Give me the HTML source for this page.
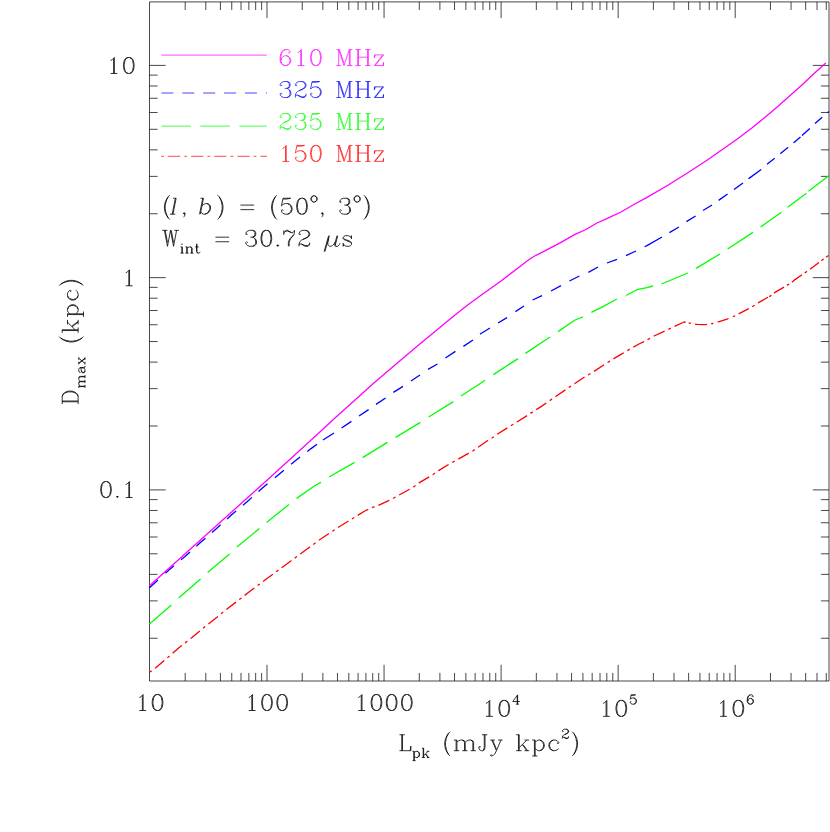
<!DOCTYPE html>
<html><head><meta charset="utf-8"><title>Dmax vs Lpk</title>
<style>html,body{margin:0;padding:0;background:#fff;font-family:"Liberation Sans",sans-serif}svg{display:block}</style></head>
<body>
<svg width="830" height="832" viewBox="0 0 830 832">
<title>D_max (kpc) versus L_pk (mJy kpc^2)</title>
<desc>Log-log plot of D_max (kpc) against L_pk (mJy kpc^2) for 610 MHz, 325 MHz, 235 MHz and 150 MHz; (l, b) = (50 deg, 3 deg), W_int = 30.72 us. X axis 10 to 10^6, Y axis 0.1 to 10.</desc>
<rect width="830" height="832" fill="#fff"/>
<path d="M149.5 1.9H829V681H149.5ZM185.19 681v-8.1M185.19 1.9v8.1M205.8 681v-8.1M205.8 1.9v8.1M220.42 681v-8.1M220.42 1.9v8.1M231.76 681v-8.1M231.76 1.9v8.1M241.03 681v-8.1M241.03 1.9v8.1M248.87 681v-8.1M248.87 1.9v8.1M255.66 681v-8.1M255.66 1.9v8.1M261.64 681v-8.1M261.64 1.9v8.1M267 681v-16.2M267 1.9v16.2M302.24 681v-8.1M302.24 1.9v8.1M322.85 681v-8.1M322.85 1.9v8.1M337.47 681v-8.1M337.47 1.9v8.1M348.81 681v-8.1M348.81 1.9v8.1M358.08 681v-8.1M358.08 1.9v8.1M365.92 681v-8.1M365.92 1.9v8.1M372.71 681v-8.1M372.71 1.9v8.1M378.69 681v-8.1M378.69 1.9v8.1M384.05 681v-16.2M384.05 1.9v16.2M419.29 681v-8.1M419.29 1.9v8.1M439.9 681v-8.1M439.9 1.9v8.1M454.52 681v-8.1M454.52 1.9v8.1M465.86 681v-8.1M465.86 1.9v8.1M475.13 681v-8.1M475.13 1.9v8.1M482.97 681v-8.1M482.97 1.9v8.1M489.76 681v-8.1M489.76 1.9v8.1M495.74 681v-8.1M495.74 1.9v8.1M501.1 681v-16.2M501.1 1.9v16.2M536.34 681v-8.1M536.34 1.9v8.1M556.95 681v-8.1M556.95 1.9v8.1M571.57 681v-8.1M571.57 1.9v8.1M582.91 681v-8.1M582.91 1.9v8.1M592.18 681v-8.1M592.18 1.9v8.1M600.02 681v-8.1M600.02 1.9v8.1M606.81 681v-8.1M606.81 1.9v8.1M612.79 681v-8.1M612.79 1.9v8.1M618.15 681v-16.2M618.15 1.9v16.2M653.39 681v-8.1M653.39 1.9v8.1M674 681v-8.1M674 1.9v8.1M688.62 681v-8.1M688.62 1.9v8.1M699.96 681v-8.1M699.96 1.9v8.1M709.23 681v-8.1M709.23 1.9v8.1M717.07 681v-8.1M717.07 1.9v8.1M723.86 681v-8.1M723.86 1.9v8.1M729.84 681v-8.1M729.84 1.9v8.1M735.2 681v-16.2M735.2 1.9v16.2M770.44 681v-8.1M770.44 1.9v8.1M791.05 681v-8.1M791.05 1.9v8.1M805.67 681v-8.1M805.67 1.9v8.1M817.01 681v-8.1M817.01 1.9v8.1M826.28 681v-8.1M826.28 1.9v8.1M149.5 638.26h8.1M829 638.26h-8.1M149.5 600.88h8.1M829 600.88h-8.1M149.5 574.36h8.1M829 574.36h-8.1M149.5 553.79h8.1M829 553.79h-8.1M149.5 536.99h8.1M829 536.99h-8.1M149.5 522.78h8.1M829 522.78h-8.1M149.5 510.47h8.1M829 510.47h-8.1M149.5 499.61h8.1M829 499.61h-8.1M149.5 489.9h16.2M829 489.9h-16.2M149.5 426.01h8.1M829 426.01h-8.1M149.5 388.63h8.1M829 388.63h-8.1M149.5 362.11h8.1M829 362.11h-8.1M149.5 341.54h8.1M829 341.54h-8.1M149.5 324.74h8.1M829 324.74h-8.1M149.5 310.53h8.1M829 310.53h-8.1M149.5 298.22h8.1M829 298.22h-8.1M149.5 287.36h8.1M829 287.36h-8.1M149.5 277.65h16.2M829 277.65h-16.2M149.5 213.76h8.1M829 213.76h-8.1M149.5 176.38h8.1M829 176.38h-8.1M149.5 149.86h8.1M829 149.86h-8.1M149.5 129.29h8.1M829 129.29h-8.1M149.5 112.49h8.1M829 112.49h-8.1M149.5 98.28h8.1M829 98.28h-8.1M149.5 85.97h8.1M829 85.97h-8.1M149.5 75.11h8.1M829 75.11h-8.1M149.5 65.4h16.2M829 65.4h-16.2" fill="none" stroke="#000" stroke-width="0.72"/>
<path d="M110.56 60.53L112.08 59.77L114.36 57.49L114.36 73.45M113.6 58.25L113.6 73.45M110.56 73.45L117.4 73.45M128.04 57.49L125.76 58.25L124.24 60.53L123.48 64.33L123.48 66.61L124.24 70.41L125.76 72.69L128.04 73.45L129.56 73.45L131.84 72.69L133.36 70.41L134.12 66.61L134.12 64.33L133.36 60.53L131.84 58.25L129.56 57.49L128.04 57.49M128.04 57.49L126.52 58.25L125.76 59.01L125 60.53L124.24 64.33L124.24 66.61L125 70.41L125.76 71.93L126.52 72.69L128.04 73.45M129.56 73.45L131.08 72.69L131.84 71.93L132.6 70.41L133.36 66.61L133.36 64.33L132.6 60.53L131.84 59.01L131.08 58.25L129.56 57.49M125.76 272.83L127.28 272.07L129.56 269.79L129.56 285.75M128.8 270.55L128.8 285.75M125.76 285.75L132.6 285.75M105.24 481.54L102.96 482.3L101.44 484.58L100.68 488.38L100.68 490.66L101.44 494.46L102.96 496.74L105.24 497.5L106.76 497.5L109.04 496.74L110.56 494.46L111.32 490.66L111.32 488.38L110.56 484.58L109.04 482.3L106.76 481.54L105.24 481.54M105.24 481.54L103.72 482.3L102.96 483.06L102.2 484.58L101.44 488.38L101.44 490.66L102.2 494.46L102.96 495.98L103.72 496.74L105.24 497.5M106.76 497.5L108.28 496.74L109.04 495.98L109.8 494.46L110.56 490.66L110.56 488.38L109.8 484.58L109.04 483.06L108.28 482.3L106.76 481.54M117.4 495.98L116.64 496.74L117.4 497.5L118.16 496.74L117.4 495.98M117.4 495.98L117.4 497.5M116.64 496.74L118.16 496.74M125.76 484.58L127.28 483.82L129.56 481.54L129.56 497.5M128.8 482.3L128.8 497.5M125.76 497.5L132.6 497.5M139.31 697.58L140.83 696.82L143.11 694.54L143.11 710.5M142.35 695.3L142.35 710.5M139.31 710.5L146.15 710.5M156.79 694.54L154.51 695.3L152.99 697.58L152.23 701.38L152.23 703.66L152.99 707.46L154.51 709.74L156.79 710.5L158.31 710.5L160.59 709.74L162.11 707.46L162.87 703.66L162.87 701.38L162.11 697.58L160.59 695.3L158.31 694.54L156.79 694.54M156.79 694.54L155.27 695.3L154.51 696.06L153.75 697.58L152.99 701.38L152.99 703.66L153.75 707.46L154.51 708.98L155.27 709.74L156.79 710.5M158.31 710.5L159.83 709.74L160.59 708.98L161.35 707.46L162.11 703.66L162.11 701.38L161.35 697.58L160.59 696.06L159.83 695.3L158.31 694.54M248.76 697.58L250.28 696.82L252.56 694.54L252.56 710.5M251.8 695.3L251.8 710.5M248.76 710.5L255.6 710.5M266.24 694.54L263.96 695.3L262.44 697.58L261.68 701.38L261.68 703.66L262.44 707.46L263.96 709.74L266.24 710.5L267.76 710.5L270.04 709.74L271.56 707.46L272.32 703.66L272.32 701.38L271.56 697.58L270.04 695.3L267.76 694.54L266.24 694.54M266.24 694.54L264.72 695.3L263.96 696.06L263.2 697.58L262.44 701.38L262.44 703.66L263.2 707.46L263.96 708.98L264.72 709.74L266.24 710.5M267.76 710.5L269.28 709.74L270.04 708.98L270.8 707.46L271.56 703.66L271.56 701.38L270.8 697.58L270.04 696.06L269.28 695.3L267.76 694.54M281.44 694.54L279.16 695.3L277.64 697.58L276.88 701.38L276.88 703.66L277.64 707.46L279.16 709.74L281.44 710.5L282.96 710.5L285.24 709.74L286.76 707.46L287.52 703.66L287.52 701.38L286.76 697.58L285.24 695.3L282.96 694.54L281.44 694.54M281.44 694.54L279.92 695.3L279.16 696.06L278.4 697.58L277.64 701.38L277.64 703.66L278.4 707.46L279.16 708.98L279.92 709.74L281.44 710.5M282.96 710.5L284.48 709.74L285.24 708.98L286 707.46L286.76 703.66L286.76 701.38L286 697.58L285.24 696.06L284.48 695.3L282.96 694.54M358.21 697.58L359.73 696.82L362.01 694.54L362.01 710.5M361.25 695.3L361.25 710.5M358.21 710.5L365.05 710.5M375.69 694.54L373.41 695.3L371.89 697.58L371.13 701.38L371.13 703.66L371.89 707.46L373.41 709.74L375.69 710.5L377.21 710.5L379.49 709.74L381.01 707.46L381.77 703.66L381.77 701.38L381.01 697.58L379.49 695.3L377.21 694.54L375.69 694.54M375.69 694.54L374.17 695.3L373.41 696.06L372.65 697.58L371.89 701.38L371.89 703.66L372.65 707.46L373.41 708.98L374.17 709.74L375.69 710.5M377.21 710.5L378.73 709.74L379.49 708.98L380.25 707.46L381.01 703.66L381.01 701.38L380.25 697.58L379.49 696.06L378.73 695.3L377.21 694.54M390.89 694.54L388.61 695.3L387.09 697.58L386.33 701.38L386.33 703.66L387.09 707.46L388.61 709.74L390.89 710.5L392.41 710.5L394.69 709.74L396.21 707.46L396.97 703.66L396.97 701.38L396.21 697.58L394.69 695.3L392.41 694.54L390.89 694.54M390.89 694.54L389.37 695.3L388.61 696.06L387.85 697.58L387.09 701.38L387.09 703.66L387.85 707.46L388.61 708.98L389.37 709.74L390.89 710.5M392.41 710.5L393.93 709.74L394.69 708.98L395.45 707.46L396.21 703.66L396.21 701.38L395.45 697.58L394.69 696.06L393.93 695.3L392.41 694.54M406.09 694.54L403.81 695.3L402.29 697.58L401.53 701.38L401.53 703.66L402.29 707.46L403.81 709.74L406.09 710.5L407.61 710.5L409.89 709.74L411.41 707.46L412.17 703.66L412.17 701.38L411.41 697.58L409.89 695.3L407.61 694.54L406.09 694.54M406.09 694.54L404.57 695.3L403.81 696.06L403.05 697.58L402.29 701.38L402.29 703.66L403.05 707.46L403.81 708.98L404.57 709.74L406.09 710.5M407.61 710.5L409.13 709.74L409.89 708.98L410.65 707.46L411.41 703.66L411.41 701.38L410.65 697.58L409.89 696.06L409.13 695.3L407.61 694.54M486.01 703.43L487.53 702.67L489.81 700.39L489.81 716.35M489.05 701.15L489.05 716.35M486.01 716.35L492.85 716.35M503.49 700.39L501.21 701.15L499.69 703.43L498.93 707.23L498.93 709.51L499.69 713.31L501.21 715.59L503.49 716.35L505.01 716.35L507.29 715.59L508.81 713.31L509.57 709.51L509.57 707.23L508.81 703.43L507.29 701.15L505.01 700.39L503.49 700.39M503.49 700.39L501.97 701.15L501.21 701.91L500.45 703.43L499.69 707.23L499.69 709.51L500.45 713.31L501.21 714.83L501.97 715.59L503.49 716.35M505.01 716.35L506.53 715.59L507.29 714.83L508.05 713.31L508.81 709.51L508.81 707.23L508.05 703.43L507.29 701.91L506.53 701.15L505.01 700.39M517.19 695.74L517.19 704.19M517.63 694.85L517.63 704.19M517.63 694.85L512.74 701.52L519.86 701.52M515.86 704.19L518.97 704.19M603.06 703.43L604.58 702.67L606.86 700.39L606.86 716.35M606.1 701.15L606.1 716.35M603.06 716.35L609.9 716.35M620.54 700.39L618.26 701.15L616.74 703.43L615.98 707.23L615.98 709.51L616.74 713.31L618.26 715.59L620.54 716.35L622.06 716.35L624.34 715.59L625.86 713.31L626.62 709.51L626.62 707.23L625.86 703.43L624.34 701.15L622.06 700.39L620.54 700.39M620.54 700.39L619.02 701.15L618.26 701.91L617.5 703.43L616.74 707.23L616.74 709.51L617.5 713.31L618.26 714.83L619.02 715.59L620.54 716.35M622.06 716.35L623.58 715.59L624.34 714.83L625.1 713.31L625.86 709.51L625.86 707.23L625.1 703.43L624.34 701.91L623.58 701.15L622.06 700.39M631.13 694.85L630.24 699.3M630.24 699.3L631.13 698.41L632.46 697.97L633.79 697.97L635.13 698.41L636.02 699.3L636.46 700.63L636.46 701.52L636.02 702.86L635.13 703.75L633.79 704.19L632.46 704.19L631.13 703.75L630.68 703.3L630.24 702.41L630.24 701.97L630.68 701.52L631.13 701.97L630.68 702.41M633.79 697.97L634.68 698.41L635.57 699.3L636.02 700.63L636.02 701.52L635.57 702.86L634.68 703.75L633.79 704.19M631.13 694.85L635.57 694.85M631.13 695.3L633.35 695.3L635.57 694.85M720.11 703.43L721.63 702.67L723.91 700.39L723.91 716.35M723.15 701.15L723.15 716.35M720.11 716.35L726.95 716.35M737.59 700.39L735.31 701.15L733.79 703.43L733.03 707.23L733.03 709.51L733.79 713.31L735.31 715.59L737.59 716.35L739.11 716.35L741.39 715.59L742.91 713.31L743.67 709.51L743.67 707.23L742.91 703.43L741.39 701.15L739.11 700.39L737.59 700.39M737.59 700.39L736.07 701.15L735.31 701.91L734.55 703.43L733.79 707.23L733.79 709.51L734.55 713.31L735.31 714.83L736.07 715.59L737.59 716.35M739.11 716.35L740.63 715.59L741.39 714.83L742.15 713.31L742.91 709.51L742.91 707.23L742.15 703.43L741.39 701.91L740.63 701.15L739.11 700.39M752.62 696.19L752.18 696.63L752.62 697.08L753.07 696.63L753.07 696.19L752.62 695.3L751.73 694.85L750.4 694.85L749.07 695.3L748.18 696.19L747.73 697.08L747.29 698.85L747.29 701.52L747.73 702.86L748.62 703.75L749.96 704.19L750.84 704.19L752.18 703.75L753.07 702.86L753.51 701.52L753.51 701.08L753.07 699.74L752.18 698.85L750.84 698.41L750.4 698.41L749.07 698.85L748.18 699.74L747.73 701.08M750.4 694.85L749.51 695.3L748.62 696.19L748.18 697.08L747.73 698.85L747.73 701.52L748.18 702.86L749.07 703.75L749.96 704.19M750.84 704.19L751.73 703.75L752.62 702.86L753.07 701.52L753.07 701.08L752.62 699.74L751.73 698.85L750.84 698.41M401.75 734.74L401.75 750.7M402.51 734.74L402.51 750.7M399.47 734.74L404.79 734.74M399.47 750.7L410.87 750.7L410.87 746.14L410.11 750.7M413.85 751.32L413.85 760.65M414.3 751.32L414.3 760.65M414.3 752.65L415.18 751.76L416.07 751.32L416.96 751.32L418.3 751.76L419.19 752.65L419.63 753.98L419.63 754.87L419.19 756.21L418.3 757.1L416.96 757.54L416.07 757.54L415.18 757.1L414.3 756.21M416.96 751.32L417.85 751.76L418.74 752.65L419.19 753.98L419.19 754.87L418.74 756.21L417.85 757.1L416.96 757.54M412.52 751.32L414.3 751.32M412.52 760.65L415.63 760.65M423.19 748.2L423.19 757.54M423.63 748.2L423.63 757.54M428.08 751.32L423.63 755.76M425.85 753.98L428.52 757.54M425.41 753.98L428.08 757.54M421.85 748.2L423.63 748.2M426.74 751.32L429.41 751.32M421.85 757.54L424.97 757.54M426.74 757.54L429.41 757.54M450.06 731.7L448.54 733.22L447.02 735.5L445.5 738.54L444.74 742.34L444.74 745.38L445.5 749.18L447.02 752.22L448.54 754.5L450.06 756.02M448.54 733.22L447.02 736.26L446.26 738.54L445.5 742.34L445.5 745.38L446.26 749.18L447.02 751.46L448.54 754.5M456.14 740.06L456.14 750.7M456.9 740.06L456.9 750.7M456.9 742.34L458.42 740.82L460.7 740.06L462.22 740.06L464.5 740.82L465.26 742.34L465.26 750.7M462.22 740.06L463.74 740.82L464.5 742.34L464.5 750.7M465.26 742.34L466.78 740.82L469.06 740.06L470.58 740.06L472.86 740.82L473.62 742.34L473.62 750.7M470.58 740.06L472.1 740.82L472.86 742.34L472.86 750.7M453.86 740.06L456.9 740.06M453.86 750.7L459.18 750.7M462.22 750.7L467.54 750.7M470.58 750.7L475.9 750.7M485.02 734.74L485.02 747.66L484.26 749.94L482.74 750.7L481.22 750.7L479.7 749.94L478.94 748.42L478.94 746.9L479.7 746.14L480.46 746.9L479.7 747.66M484.26 734.74L484.26 747.66L483.5 749.94L482.74 750.7M481.98 734.74L487.3 734.74M491.86 740.06L496.42 750.7M492.62 740.06L496.42 749.18M500.98 740.06L496.42 750.7L494.9 753.74L493.38 755.26L491.86 756.02L491.1 756.02L490.34 755.26L491.1 754.5L491.86 755.26M490.34 740.06L494.9 740.06M497.94 740.06L502.5 740.06M518.46 734.74L518.46 750.7M519.22 734.74L519.22 750.7M526.82 740.06L519.22 747.66M523.02 744.62L527.58 750.7M522.26 744.62L526.82 750.7M516.18 734.74L519.22 734.74M524.54 740.06L529.1 740.06M516.18 750.7L521.5 750.7M524.54 750.7L529.1 750.7M534.42 740.06L534.42 756.02M535.18 740.06L535.18 756.02M535.18 742.34L536.7 740.82L538.22 740.06L539.74 740.06L542.02 740.82L543.54 742.34L544.3 744.62L544.3 746.14L543.54 748.42L542.02 749.94L539.74 750.7L538.22 750.7L536.7 749.94L535.18 748.42M539.74 740.06L541.26 740.82L542.78 742.34L543.54 744.62L543.54 746.14L542.78 748.42L541.26 749.94L539.74 750.7M532.14 740.06L535.18 740.06M532.14 756.02L537.46 756.02M557.98 742.34L557.22 743.1L557.98 743.86L558.74 743.1L558.74 742.34L557.22 740.82L555.7 740.06L553.42 740.06L551.14 740.82L549.62 742.34L548.86 744.62L548.86 746.14L549.62 748.42L551.14 749.94L553.42 750.7L554.94 750.7L557.22 749.94L558.74 748.42M553.42 740.06L551.9 740.82L550.38 742.34L549.62 744.62L549.62 746.14L550.38 748.42L551.9 749.94L553.42 750.7M562.8 730.98L563.24 731.43L562.8 731.87L562.35 731.43L562.35 730.98L562.8 730.09L563.24 729.65L564.58 729.2L566.36 729.2L567.69 729.65L568.13 730.09L568.58 730.98L568.58 731.87L568.13 732.76L566.8 733.65L564.58 734.54L563.69 734.98L562.8 735.87L562.35 737.21L562.35 738.54M566.36 729.2L567.25 729.65L567.69 730.09L568.13 730.98L568.13 731.87L567.69 732.76L566.36 733.65L564.58 734.54M562.35 737.65L562.8 737.21L563.69 737.21L565.91 738.1L567.25 738.1L568.13 737.65L568.58 737.21M563.69 737.21L565.91 738.54L567.69 738.54L568.13 738.1L568.58 737.21L568.58 736.32M572.19 731.7L573.71 733.22L575.23 735.5L576.75 738.54L577.51 742.34L577.51 745.38L576.75 749.18L575.23 752.22L573.71 754.5L572.19 756.02M573.71 733.22L575.23 736.26L575.99 738.54L576.75 742.34L576.75 745.38L575.99 749.18L575.23 751.46L573.71 754.5M62.19 401.76L78.15 401.76M62.19 401L78.15 401M62.19 404.04L62.19 396.44L62.95 394.16L64.47 392.64L65.99 391.88L68.27 391.12L72.07 391.12L74.35 391.88L75.87 392.64L77.39 394.16L78.15 396.44L78.15 404.04M62.19 396.44L62.95 394.92L64.47 393.4L65.99 392.64L68.27 391.88L72.07 391.88L74.35 392.64L75.87 393.4L77.39 394.92L78.15 396.44M78.77 386.61L84.99 386.61M78.77 386.17L84.99 386.17M80.1 386.17L79.21 385.28L78.77 383.95L78.77 383.06L79.21 381.72L80.1 381.28L84.99 381.28M78.77 383.06L79.21 382.17L80.1 381.72L84.99 381.72M80.1 381.28L79.21 380.39L78.77 379.06L78.77 378.17L79.21 376.83L80.1 376.39L84.99 376.39M78.77 378.17L79.21 377.28L80.1 376.83L84.99 376.83M78.77 387.95L78.77 386.17M84.99 387.95L84.99 384.84M84.99 383.06L84.99 379.95M84.99 378.17L84.99 375.06M79.65 371.94L80.1 371.94L80.1 372.39L79.65 372.39L79.21 371.94L78.77 371.05L78.77 369.28L79.21 368.39L79.65 367.94L80.54 367.5L83.66 367.5L84.55 367.05L84.99 366.61M79.65 367.94L83.66 367.94L84.55 367.5L84.99 366.61L84.99 366.16M80.54 367.94L80.99 368.39L81.43 371.05L81.88 372.39L82.77 372.83L83.66 372.83L84.55 372.39L84.99 371.05L84.99 369.72L84.55 368.83L83.66 367.94M81.43 371.05L81.88 371.94L82.77 372.39L83.66 372.39L84.55 371.94L84.99 371.05M78.77 363.5L84.99 358.61M78.77 363.05L84.99 358.16M78.77 358.16L84.99 363.5M78.77 364.38L78.77 361.72M78.77 359.94L78.77 357.27M84.99 364.38L84.99 361.72M84.99 359.94L84.99 357.27M59.15 336.62L60.67 338.14L62.95 339.66L65.99 341.18L69.79 341.94L72.83 341.94L76.63 341.18L79.67 339.66L81.95 338.14L83.47 336.62M60.67 338.14L63.71 339.66L65.99 340.42L69.79 341.18L72.83 341.18L76.63 340.42L78.91 339.66L81.95 338.14M62.19 330.54L78.15 330.54M62.19 329.78L78.15 329.78M67.51 322.18L75.11 329.78M72.07 325.98L78.15 321.42M72.07 326.74L78.15 322.18M62.19 332.82L62.19 329.78M67.51 324.46L67.51 319.9M78.15 332.82L78.15 327.5M78.15 324.46L78.15 319.9M67.51 314.58L83.47 314.58M67.51 313.82L83.47 313.82M69.79 313.82L68.27 312.3L67.51 310.78L67.51 309.26L68.27 306.98L69.79 305.46L72.07 304.7L73.59 304.7L75.87 305.46L77.39 306.98L78.15 309.26L78.15 310.78L77.39 312.3L75.87 313.82M67.51 309.26L68.27 307.74L69.79 306.22L72.07 305.46L73.59 305.46L75.87 306.22L77.39 307.74L78.15 309.26M67.51 316.86L67.51 313.82M83.47 316.86L83.47 311.54M69.79 291.02L70.55 291.78L71.31 291.02L70.55 290.26L69.79 290.26L68.27 291.78L67.51 293.3L67.51 295.58L68.27 297.86L69.79 299.38L72.07 300.14L73.59 300.14L75.87 299.38L77.39 297.86L78.15 295.58L78.15 294.06L77.39 291.78L75.87 290.26M67.51 295.58L68.27 297.1L69.79 298.62L72.07 299.38L73.59 299.38L75.87 298.62L77.39 297.1L78.15 295.58M59.15 285.7L60.67 284.18L62.95 282.66L65.99 281.14L69.79 280.38L72.83 280.38L76.63 281.14L79.67 282.66L81.95 284.18L83.47 285.7M60.67 284.18L63.71 282.66L65.99 281.9L69.79 281.14L72.83 281.14L76.63 281.9L78.91 282.66L81.95 284.18M169.76 195.2L168.24 196.72L166.72 199L165.2 202.04L164.44 205.84L164.44 208.88L165.2 212.68L166.72 215.72L168.24 218L169.76 219.52M168.24 196.72L166.72 199.76L165.96 202.04L165.2 205.84L165.2 208.88L165.96 212.68L166.72 214.96L168.24 218M175.38 198.24L172.19 214.2M176.14 198.24L172.95 214.2M173.1 198.24L176.14 198.24M169.91 214.2L175.23 214.2M184.96 213.44L184.2 214.2L183.44 213.44L184.2 212.68L184.96 213.44L184.96 214.96L184.2 216.48L183.44 217.24M184.2 212.68L184.2 214.2M183.44 213.44L184.96 213.44M202.74 198.24L199.55 214.2M203.5 198.24L200.31 214.2M201.98 205.84L203.81 204.32L205.48 203.56L207 203.56L209.13 204.32L210.34 205.84L210.65 208.12L210.34 209.64L209.13 211.92L207.3 213.44L204.87 214.2L203.35 214.2L201.98 213.44L200.77 211.92M207 203.56L208.37 204.32L209.58 205.84L209.89 208.12L209.58 209.64L208.37 211.92L206.54 213.44L204.87 214.2M200.46 198.24L203.5 198.24M217.64 195.2L219.16 196.72L220.68 199L222.2 202.04L222.96 205.84L222.96 208.88L222.2 212.68L220.68 215.72L219.16 218L217.64 219.52M219.16 196.72L220.68 199.76L221.44 202.04L222.2 205.84L222.2 208.88L221.44 212.68L220.68 214.96L219.16 218M240.44 205.08L254.12 205.08M240.44 209.64L254.12 209.64M276.92 195.2L275.4 196.72L273.88 199L272.36 202.04L271.6 205.84L271.6 208.88L272.36 212.68L273.88 215.72L275.4 218L276.92 219.52M275.4 196.72L273.88 199.76L273.12 202.04L272.36 205.84L272.36 208.88L273.12 212.68L273.88 214.96L275.4 218M283 198.24L281.48 205.84M281.48 205.84L283 204.32L285.28 203.56L287.56 203.56L289.84 204.32L291.36 205.84L292.12 208.12L292.12 209.64L291.36 211.92L289.84 213.44L287.56 214.2L285.28 214.2L283 213.44L282.24 212.68L281.48 211.16L281.48 210.4L282.24 209.64L283 210.4L282.24 211.16M287.56 203.56L289.08 204.32L290.6 205.84L291.36 208.12L291.36 209.64L290.6 211.92L289.08 213.44L287.56 214.2M283 198.24L290.6 198.24M283 199L286.8 199L290.6 198.24M301.24 198.24L298.96 199L297.44 201.28L296.68 205.08L296.68 207.36L297.44 211.16L298.96 213.44L301.24 214.2L302.76 214.2L305.04 213.44L306.56 211.16L307.32 207.36L307.32 205.08L306.56 201.28L305.04 199L302.76 198.24L301.24 198.24M301.24 198.24L299.72 199L298.96 199.76L298.2 201.28L297.44 205.08L297.44 207.36L298.2 211.16L298.96 212.68L299.72 213.44L301.24 214.2M302.76 214.2L304.28 213.44L305.04 212.68L305.8 211.16L306.56 207.36L306.56 205.08L305.8 201.28L305.04 199.76L304.28 199L302.76 198.24M313.6 195.82L312.27 196.26L311.38 197.15L310.93 198.48L310.93 199.37L311.38 200.71L312.27 201.6L313.6 202.04L314.49 202.04L315.82 201.6L316.71 200.71L317.16 199.37L317.16 198.48L316.71 197.15L315.82 196.26L314.49 195.82L313.6 195.82M313.6 195.82L312.71 196.26L311.82 197.15L311.38 198.48L311.38 199.37L311.82 200.71L312.71 201.6L313.6 202.04M314.49 202.04L315.38 201.6L316.27 200.71L316.71 199.37L316.71 198.48L316.27 197.15L315.38 196.26L314.49 195.82M323.05 213.44L322.29 214.2L321.53 213.44L322.29 212.68L323.05 213.44L323.05 214.96L322.29 216.48L321.53 217.24M322.29 212.68L322.29 214.2M321.53 213.44L323.05 213.44M340.53 201.28L341.29 202.04L340.53 202.8L339.77 202.04L339.77 201.28L340.53 199.76L341.29 199L343.57 198.24L346.61 198.24L348.89 199L349.65 200.52L349.65 202.8L348.89 204.32L346.61 205.08L344.33 205.08M346.61 198.24L348.13 199L348.89 200.52L348.89 202.8L348.13 204.32L346.61 205.08M346.61 205.08L348.13 205.84L349.65 207.36L350.41 208.88L350.41 211.16L349.65 212.68L348.89 213.44L346.61 214.2L343.57 214.2L341.29 213.44L340.53 212.68L339.77 211.16L339.77 210.4L340.53 209.64L341.29 210.4L340.53 211.16M348.89 206.6L349.65 208.88L349.65 211.16L348.89 212.68L348.13 213.44L346.61 214.2M356.69 195.82L355.36 196.26L354.47 197.15L354.03 198.48L354.03 199.37L354.47 200.71L355.36 201.6L356.69 202.04L357.58 202.04L358.92 201.6L359.81 200.71L360.25 199.37L360.25 198.48L359.81 197.15L358.92 196.26L357.58 195.82L356.69 195.82M356.69 195.82L355.8 196.26L354.91 197.15L354.47 198.48L354.47 199.37L354.91 200.71L355.8 201.6L356.69 202.04M357.58 202.04L358.47 201.6L359.36 200.71L359.81 199.37L359.81 198.48L359.36 197.15L358.47 196.26L357.58 195.82M363.86 195.2L365.38 196.72L366.9 199L368.42 202.04L369.18 205.84L369.18 208.88L368.42 212.68L366.9 215.72L365.38 218L363.86 219.52M365.38 196.72L366.9 199.76L367.66 202.04L368.42 205.84L368.42 208.88L367.66 212.68L366.9 214.96L365.38 218M164.44 230.34L167.48 246.3M165.2 230.34L167.48 242.5M170.52 230.34L167.48 246.3M170.52 230.34L173.56 246.3M171.28 230.34L173.56 242.5M176.6 230.34L173.56 246.3M162.16 230.34L167.48 230.34M174.32 230.34L178.88 230.34M181.86 243.8L181.42 244.25L181.86 244.69L182.31 244.25L181.86 243.8M181.86 246.92L181.86 253.14M182.31 246.92L182.31 253.14M180.53 246.92L182.31 246.92M180.53 253.14L183.64 253.14M186.75 246.92L186.75 253.14M187.2 246.92L187.2 253.14M187.2 248.25L188.09 247.36L189.42 246.92L190.31 246.92L191.64 247.36L192.09 248.25L192.09 253.14M190.31 246.92L191.2 247.36L191.64 248.25L191.64 253.14M185.42 246.92L187.2 246.92M185.42 253.14L188.53 253.14M190.31 253.14L193.42 253.14M196.53 243.8L196.53 251.36L196.98 252.7L197.87 253.14L198.76 253.14L199.65 252.7L200.09 251.81M196.98 243.8L196.98 251.36L197.42 252.7L197.87 253.14M195.2 246.92L198.76 246.92M215.42 237.18L229.1 237.18M215.42 241.74L229.1 241.74M246.58 233.38L247.34 234.14L246.58 234.9L245.82 234.14L245.82 233.38L246.58 231.86L247.34 231.1L249.62 230.34L252.66 230.34L254.94 231.1L255.7 232.62L255.7 234.9L254.94 236.42L252.66 237.18L250.38 237.18M252.66 230.34L254.18 231.1L254.94 232.62L254.94 234.9L254.18 236.42L252.66 237.18M252.66 237.18L254.18 237.94L255.7 239.46L256.46 240.98L256.46 243.26L255.7 244.78L254.94 245.54L252.66 246.3L249.62 246.3L247.34 245.54L246.58 244.78L245.82 243.26L245.82 242.5L246.58 241.74L247.34 242.5L246.58 243.26M254.94 238.7L255.7 240.98L255.7 243.26L254.94 244.78L254.18 245.54L252.66 246.3M265.58 230.34L263.3 231.1L261.78 233.38L261.02 237.18L261.02 239.46L261.78 243.26L263.3 245.54L265.58 246.3L267.1 246.3L269.38 245.54L270.9 243.26L271.66 239.46L271.66 237.18L270.9 233.38L269.38 231.1L267.1 230.34L265.58 230.34M265.58 230.34L264.06 231.1L263.3 231.86L262.54 233.38L261.78 237.18L261.78 239.46L262.54 243.26L263.3 244.78L264.06 245.54L265.58 246.3M267.1 246.3L268.62 245.54L269.38 244.78L270.14 243.26L270.9 239.46L270.9 237.18L270.14 233.38L269.38 231.86L268.62 231.1L267.1 230.34M277.74 244.78L276.98 245.54L277.74 246.3L278.5 245.54L277.74 244.78M277.74 244.78L277.74 246.3M276.98 245.54L278.5 245.54M283.82 230.34L283.82 234.9M283.82 233.38L284.58 231.86L286.1 230.34L287.62 230.34L291.42 232.62L292.94 232.62L293.7 231.86L294.46 230.34M284.58 231.86L286.1 231.1L287.62 231.1L291.42 232.62M294.46 230.34L294.46 232.62L293.7 234.9L290.66 238.7L289.9 240.22L289.14 242.5L289.14 246.3M293.7 234.9L289.9 238.7L289.14 240.22L288.38 242.5L288.38 246.3M299.78 233.38L300.54 234.14L299.78 234.9L299.02 234.14L299.02 233.38L299.78 231.86L300.54 231.1L302.82 230.34L305.86 230.34L308.14 231.1L308.9 231.86L309.66 233.38L309.66 234.9L308.9 236.42L306.62 237.94L302.82 239.46L301.3 240.22L299.78 241.74L299.02 244.02L299.02 246.3M305.86 230.34L307.38 231.1L308.14 231.86L308.9 233.38L308.9 234.9L308.14 236.42L305.86 237.94L302.82 239.46M299.02 244.78L299.78 244.02L301.3 244.02L305.1 245.54L307.38 245.54L308.9 244.78L309.66 244.02M301.3 244.02L305.1 246.3L308.14 246.3L308.9 245.54L309.66 244.02L309.66 242.5M328.66 235.66L324.1 251.62M329.42 235.66L324.86 251.62M328.66 237.94L327.9 242.5L327.9 244.78L329.42 246.3L330.94 246.3L332.46 245.54L333.98 244.02L335.5 241.74M337.02 235.66L334.74 244.02L334.74 245.54L335.5 246.3L337.78 246.3L339.3 244.78L340.06 243.26M337.78 235.66L335.5 244.02L335.5 245.54L336.26 246.3M350.7 237.18L351.46 235.66L351.46 238.7L350.7 237.18L349.94 236.42L348.42 235.66L345.38 235.66L343.86 236.42L343.1 237.18L343.1 238.7L343.86 239.46L345.38 240.22L349.18 241.74L350.7 242.5L351.46 243.26M343.1 237.94L343.86 238.7L345.38 239.46L349.18 240.98L350.7 241.74L351.46 242.5L351.46 244.78L350.7 245.54L349.18 246.3L346.14 246.3L344.62 245.54L343.86 244.78L343.1 243.26L343.1 246.3L343.86 244.78" fill="none" stroke="#000" stroke-width="0.8" stroke-linejoin="round"/>
<path d="M161.4 55.1H266.9" fill="none" stroke="#ff00ff" stroke-width="0.72"/>
<path d="M289.3 51.87L288.54 52.63L289.3 53.39L290.06 52.63L290.06 51.87L289.3 50.35L287.78 49.59L285.5 49.59L283.22 50.35L281.7 51.87L280.94 53.39L280.18 56.43L280.18 60.99L280.94 63.27L282.46 64.79L284.74 65.55L286.26 65.55L288.54 64.79L290.06 63.27L290.82 60.99L290.82 60.23L290.06 57.95L288.54 56.43L286.26 55.67L285.5 55.67L283.22 56.43L281.7 57.95L280.94 60.23M285.5 49.59L283.98 50.35L282.46 51.87L281.7 53.39L280.94 56.43L280.94 60.99L281.7 63.27L283.22 64.79L284.74 65.55M286.26 65.55L287.78 64.79L289.3 63.27L290.06 60.99L290.06 60.23L289.3 57.95L287.78 56.43L286.26 55.67M297.66 52.63L299.18 51.87L301.46 49.59L301.46 65.55M300.7 50.35L300.7 65.55M297.66 65.55L304.5 65.55M315.14 49.59L312.86 50.35L311.34 52.63L310.58 56.43L310.58 58.71L311.34 62.51L312.86 64.79L315.14 65.55L316.66 65.55L318.94 64.79L320.46 62.51L321.22 58.71L321.22 56.43L320.46 52.63L318.94 50.35L316.66 49.59L315.14 49.59M315.14 49.59L313.62 50.35L312.86 51.11L312.1 52.63L311.34 56.43L311.34 58.71L312.1 62.51L312.86 64.03L313.62 64.79L315.14 65.55M316.66 65.55L318.18 64.79L318.94 64.03L319.7 62.51L320.46 58.71L320.46 56.43L319.7 52.63L318.94 51.11L318.18 50.35L316.66 49.59M338.7 49.59L338.7 65.55M339.46 49.59L344.02 63.27M338.7 49.59L344.02 65.55M349.34 49.59L344.02 65.55M349.34 49.59L349.34 65.55M350.1 49.59L350.1 65.55M336.42 49.59L339.46 49.59M349.34 49.59L352.38 49.59M336.42 65.55L340.98 65.55M347.06 65.55L352.38 65.55M357.7 49.59L357.7 65.55M358.46 49.59L358.46 65.55M367.58 49.59L367.58 65.55M368.34 49.59L368.34 65.55M355.42 49.59L360.74 49.59M365.3 49.59L370.62 49.59M358.46 57.19L367.58 57.19M355.42 65.55L360.74 65.55M365.3 65.55L370.62 65.55M382.78 54.91L374.42 65.55M383.54 54.91L375.18 65.55M375.18 54.91L374.42 57.95L374.42 54.91L383.54 54.91M374.42 65.55L383.54 65.55L383.54 62.51L382.78 65.55" fill="none" stroke="#ff00ff" stroke-width="0.72" stroke-linejoin="round"/>
<path d="M161.4 93H266.9" fill="none" stroke="#0000ff" stroke-width="0.72" stroke-dasharray="12 8.9"/>
<path d="M280.94 84.58L281.7 85.34L280.94 86.1L280.18 85.34L280.18 84.58L280.94 83.06L281.7 82.3L283.98 81.54L287.02 81.54L289.3 82.3L290.06 83.82L290.06 86.1L289.3 87.62L287.02 88.38L284.74 88.38M287.02 81.54L288.54 82.3L289.3 83.82L289.3 86.1L288.54 87.62L287.02 88.38M287.02 88.38L288.54 89.14L290.06 90.66L290.82 92.18L290.82 94.46L290.06 95.98L289.3 96.74L287.02 97.5L283.98 97.5L281.7 96.74L280.94 95.98L280.18 94.46L280.18 93.7L280.94 92.94L281.7 93.7L280.94 94.46M289.3 89.9L290.06 92.18L290.06 94.46L289.3 95.98L288.54 96.74L287.02 97.5M296.14 84.58L296.9 85.34L296.14 86.1L295.38 85.34L295.38 84.58L296.14 83.06L296.9 82.3L299.18 81.54L302.22 81.54L304.5 82.3L305.26 83.06L306.02 84.58L306.02 86.1L305.26 87.62L302.98 89.14L299.18 90.66L297.66 91.42L296.14 92.94L295.38 95.22L295.38 97.5M302.22 81.54L303.74 82.3L304.5 83.06L305.26 84.58L305.26 86.1L304.5 87.62L302.22 89.14L299.18 90.66M295.38 95.98L296.14 95.22L297.66 95.22L301.46 96.74L303.74 96.74L305.26 95.98L306.02 95.22M297.66 95.22L301.46 97.5L304.5 97.5L305.26 96.74L306.02 95.22L306.02 93.7M312.1 81.54L310.58 89.14M310.58 89.14L312.1 87.62L314.38 86.86L316.66 86.86L318.94 87.62L320.46 89.14L321.22 91.42L321.22 92.94L320.46 95.22L318.94 96.74L316.66 97.5L314.38 97.5L312.1 96.74L311.34 95.98L310.58 94.46L310.58 93.7L311.34 92.94L312.1 93.7L311.34 94.46M316.66 86.86L318.18 87.62L319.7 89.14L320.46 91.42L320.46 92.94L319.7 95.22L318.18 96.74L316.66 97.5M312.1 81.54L319.7 81.54M312.1 82.3L315.9 82.3L319.7 81.54M338.7 81.54L338.7 97.5M339.46 81.54L344.02 95.22M338.7 81.54L344.02 97.5M349.34 81.54L344.02 97.5M349.34 81.54L349.34 97.5M350.1 81.54L350.1 97.5M336.42 81.54L339.46 81.54M349.34 81.54L352.38 81.54M336.42 97.5L340.98 97.5M347.06 97.5L352.38 97.5M357.7 81.54L357.7 97.5M358.46 81.54L358.46 97.5M367.58 81.54L367.58 97.5M368.34 81.54L368.34 97.5M355.42 81.54L360.74 81.54M365.3 81.54L370.62 81.54M358.46 89.14L367.58 89.14M355.42 97.5L360.74 97.5M365.3 97.5L370.62 97.5M382.78 86.86L374.42 97.5M383.54 86.86L375.18 97.5M375.18 86.86L374.42 89.9L374.42 86.86L383.54 86.86M374.42 97.5L383.54 97.5L383.54 94.46L382.78 97.5" fill="none" stroke="#0000ff" stroke-width="0.72" stroke-linejoin="round"/>
<path d="M161.4 126.1H266.9" fill="none" stroke="#00ff00" stroke-width="0.72" stroke-dasharray="29.6 9.4"/>
<path d="M280.94 116.53L281.7 117.29L280.94 118.05L280.18 117.29L280.18 116.53L280.94 115.01L281.7 114.25L283.98 113.49L287.02 113.49L289.3 114.25L290.06 115.01L290.82 116.53L290.82 118.05L290.06 119.57L287.78 121.09L283.98 122.61L282.46 123.37L280.94 124.89L280.18 127.17L280.18 129.45M287.02 113.49L288.54 114.25L289.3 115.01L290.06 116.53L290.06 118.05L289.3 119.57L287.02 121.09L283.98 122.61M280.18 127.93L280.94 127.17L282.46 127.17L286.26 128.69L288.54 128.69L290.06 127.93L290.82 127.17M282.46 127.17L286.26 129.45L289.3 129.45L290.06 128.69L290.82 127.17L290.82 125.65M296.14 116.53L296.9 117.29L296.14 118.05L295.38 117.29L295.38 116.53L296.14 115.01L296.9 114.25L299.18 113.49L302.22 113.49L304.5 114.25L305.26 115.77L305.26 118.05L304.5 119.57L302.22 120.33L299.94 120.33M302.22 113.49L303.74 114.25L304.5 115.77L304.5 118.05L303.74 119.57L302.22 120.33M302.22 120.33L303.74 121.09L305.26 122.61L306.02 124.13L306.02 126.41L305.26 127.93L304.5 128.69L302.22 129.45L299.18 129.45L296.9 128.69L296.14 127.93L295.38 126.41L295.38 125.65L296.14 124.89L296.9 125.65L296.14 126.41M304.5 121.85L305.26 124.13L305.26 126.41L304.5 127.93L303.74 128.69L302.22 129.45M312.1 113.49L310.58 121.09M310.58 121.09L312.1 119.57L314.38 118.81L316.66 118.81L318.94 119.57L320.46 121.09L321.22 123.37L321.22 124.89L320.46 127.17L318.94 128.69L316.66 129.45L314.38 129.45L312.1 128.69L311.34 127.93L310.58 126.41L310.58 125.65L311.34 124.89L312.1 125.65L311.34 126.41M316.66 118.81L318.18 119.57L319.7 121.09L320.46 123.37L320.46 124.89L319.7 127.17L318.18 128.69L316.66 129.45M312.1 113.49L319.7 113.49M312.1 114.25L315.9 114.25L319.7 113.49M338.7 113.49L338.7 129.45M339.46 113.49L344.02 127.17M338.7 113.49L344.02 129.45M349.34 113.49L344.02 129.45M349.34 113.49L349.34 129.45M350.1 113.49L350.1 129.45M336.42 113.49L339.46 113.49M349.34 113.49L352.38 113.49M336.42 129.45L340.98 129.45M347.06 129.45L352.38 129.45M357.7 113.49L357.7 129.45M358.46 113.49L358.46 129.45M367.58 113.49L367.58 129.45M368.34 113.49L368.34 129.45M355.42 113.49L360.74 113.49M365.3 113.49L370.62 113.49M358.46 121.09L367.58 121.09M355.42 129.45L360.74 129.45M365.3 129.45L370.62 129.45M382.78 118.81L374.42 129.45M383.54 118.81L375.18 129.45M375.18 118.81L374.42 121.85L374.42 118.81L383.54 118.81M374.42 129.45L383.54 129.45L383.54 126.41L382.78 129.45" fill="none" stroke="#00ff00" stroke-width="0.72" stroke-linejoin="round"/>
<path d="M161.2 156.3H266.9" fill="none" stroke="#ff0000" stroke-width="0.72" stroke-dasharray="2.8 4.1 12.1 4.1"/>
<path d="M282.46 148.48L283.98 147.72L286.26 145.44L286.26 161.4M285.5 146.2L285.5 161.4M282.46 161.4L289.3 161.4M296.9 145.44L295.38 153.04M295.38 153.04L296.9 151.52L299.18 150.76L301.46 150.76L303.74 151.52L305.26 153.04L306.02 155.32L306.02 156.84L305.26 159.12L303.74 160.64L301.46 161.4L299.18 161.4L296.9 160.64L296.14 159.88L295.38 158.36L295.38 157.6L296.14 156.84L296.9 157.6L296.14 158.36M301.46 150.76L302.98 151.52L304.5 153.04L305.26 155.32L305.26 156.84L304.5 159.12L302.98 160.64L301.46 161.4M296.9 145.44L304.5 145.44M296.9 146.2L300.7 146.2L304.5 145.44M315.14 145.44L312.86 146.2L311.34 148.48L310.58 152.28L310.58 154.56L311.34 158.36L312.86 160.64L315.14 161.4L316.66 161.4L318.94 160.64L320.46 158.36L321.22 154.56L321.22 152.28L320.46 148.48L318.94 146.2L316.66 145.44L315.14 145.44M315.14 145.44L313.62 146.2L312.86 146.96L312.1 148.48L311.34 152.28L311.34 154.56L312.1 158.36L312.86 159.88L313.62 160.64L315.14 161.4M316.66 161.4L318.18 160.64L318.94 159.88L319.7 158.36L320.46 154.56L320.46 152.28L319.7 148.48L318.94 146.96L318.18 146.2L316.66 145.44M338.7 145.44L338.7 161.4M339.46 145.44L344.02 159.12M338.7 145.44L344.02 161.4M349.34 145.44L344.02 161.4M349.34 145.44L349.34 161.4M350.1 145.44L350.1 161.4M336.42 145.44L339.46 145.44M349.34 145.44L352.38 145.44M336.42 161.4L340.98 161.4M347.06 161.4L352.38 161.4M357.7 145.44L357.7 161.4M358.46 145.44L358.46 161.4M367.58 145.44L367.58 161.4M368.34 145.44L368.34 161.4M355.42 145.44L360.74 145.44M365.3 145.44L370.62 145.44M358.46 153.04L367.58 153.04M355.42 161.4L360.74 161.4M365.3 161.4L370.62 161.4M382.78 150.76L374.42 161.4M383.54 150.76L375.18 161.4M375.18 150.76L374.42 153.8L374.42 150.76L383.54 150.76M374.42 161.4L383.54 161.4L383.54 158.36L382.78 161.4" fill="none" stroke="#ff0000" stroke-width="0.72" stroke-linejoin="round"/>
<path d="M149.5 672.3L151.78 670.68M155.12 668.3L164.31 660.42M167.42 657.75L169 656.4L169.54 655.93M172.63 653.23L178.6 648L181.86 645.42M185.08 642.87L187.28 641.14M190.49 638.59L192 637.4L199.83 630.9M203.01 628.32L205.21 626.58M208.42 624.03L216 618L217.87 616.47M221.03 613.86L223.19 612.08M226.39 609.52L235.97 602.12M239.21 599.61L240 599L241.42 597.89M244.66 595.38L249 592L254.28 588.04M257.56 585.58L259.8 583.9M263.08 581.44L265 580L272.82 574.26M276.11 571.82L278.35 570.14M281.63 567.68L290.2 561.4L291.4 560.53M294.72 558.13L296.99 556.49M300.3 554.08L309.8 547L310.01 546.85M313.29 544.4L315.54 542.73M318.83 540.28L319.2 540L328.6 533.8L328.91 533.59M332.32 531.31L334.64 529.75M338.05 527.47L348.1 521.3L348.36 521.14M351.85 518.99L354.23 517.51M357.72 515.36L364.7 511L368.23 509.41M371.97 507.73L372.7 507.4L374.58 506.71M378.42 505.29L388.6 500.7L389.43 500.27M393.07 498.37L393.4 498.2L395.52 497.03M399.11 495.05L409.71 489.21M413.28 487.19L415.52 485.51M418.8 483.05L419 482.9L429.21 476.9M432.68 474.71L434.1 473.8L435 473.15M438.32 470.73L438.5 470.6L448.6 464.5L448.66 464.46M452.25 462.48L454.7 461.12M458.28 459.13L458.7 458.9L468 453.6L468.8 453.15M472.38 451.15L473 450.8L474.72 449.62M478.1 447.29L481 445.3L487 441L488.03 440.38M491.54 438.27L492 438L493.84 436.67M497.18 434.29L507.43 427.86M510.9 425.69L512 425L513.29 424.23M516.81 422.12L517 422L527 415.6L527 415.6M530.45 413.38L532.81 411.87M536.25 409.65L541 406.6L546.33 402.95M549.71 400.63L552.02 399.05M555.4 396.73L565.38 389.88M568.76 387.57L569 387.4L571.08 386M574.49 383.72L583 378L584.58 377.05M588.1 374.94L590.5 373.5M594.01 371.39L604.14 364.77M607.58 362.53L609 361.6L609.94 361.03M613.46 358.93L621 354.4L623.83 352.7M627.35 350.59L629 349.6L629.76 349.17M633.34 347.17L639 344L644 341.6L644.06 341.57M647.64 339.56L650.08 338.2M653.66 336.19L654 336L664.63 331.09M668.35 329.37L670.88 328.17M674.59 326.43L684 322L685.67 322.33" fill="none" stroke="#ff0000" stroke-width="1.3" stroke-linejoin="round" stroke-linecap="butt"/>
<path d="M688.7 322.94L689 323L690.9 323.33M695 324.05L697 324.4L705 324.6L707.1 324.31M711.2 323.75L713 323.5L713.4 323.37M717.7 322.02L727 319.1L728.5 318.48M732.9 316.67L735 315.8L735.1 315.75M738.6 313.93L748.8 308.64M752.2 306.73L754.6 305.2M758 303.04L759 302.4L768 297.3M769.1 296.68L771 295.6L771.4 295.28M774 293.2L775 292.4L784 287.11M786.9 285.41L789.2 284.06M792 282.15L795 279.6L802 274.8M804.7 272.95L807 271.37M810 269.25L813 267L819 262.5M821.4 260.65L822.5 259.8L823.7 258.94M826 257.29L828.5 255.5" fill="none" stroke="#ff0000" stroke-width="1.3" stroke-linejoin="round"/>
<path d="M149.5 624L171.4 605M178.6 598L200.6 579M207.6 572.5L229.6 554M237 547L259.4 528.4M266.6 522.4L289 504.4M296.6 498.4L315 485.5L321 482.4M329 477L354.6 462.4M362.6 457.6L387.4 442.4M395.6 437.4L420.4 422.4M428.6 417L453.4 401.6M461 396L481 383L485 380.29M493.4 374.6L518 358.6M525.4 353.4L550 337M558 331.6L575 320L583 316.8M591.4 312.4L601 307.6L617 299M626 295.5L637 289.7L647 287.6L653 286M661.4 284L688 273M696 268.4L720 254M727.6 249L753 232.4M760.6 227L781.4 212.2M787.6 207.3L806.5 193.2M808.5 191.2L828.5 176" fill="none" stroke="#00ff00" stroke-width="1.3" stroke-linejoin="round"/>
<path d="M149.5 587.7L158 579.98M165.4 573.27L169 570L174 565.75M181 559.8L185 556.4L190 551.92M196.4 546.18L200.4 542.6L205.4 538.24M212 532.49L216 529L220.6 524.81M227.1 518.9L231.6 514.8L236.1 510.98M242.9 505.22L247.4 501.4L251.9 497.36M258.5 491.44L263 487.4L267.5 483.72M274.9 477.68L279.4 474L283.9 470.28M291.1 464.32L295.6 460.6L300.1 457.09M307.3 451.48L311 448.6L317 444.3M323 440L334 433M341.6 428L351.4 421.4M359 416L368.6 409.6M376 404.4L385.6 398M393.4 392.4L403 386.4M411 381L420 375M428 369.4L437.4 364M445.4 358L455.4 351.4M463.4 346.4L473 340M480 334.31L481 333.5L490 328M498 323L507 317.6M515.4 311.6L524 306M532.6 300L542 295.6M551 291L561 285.6M569.4 281L579.4 276M588.4 272.4L598 267M607 263L617 259.4M626 255.6L636 251M644.6 246.78L647 245.6L662 237M669.4 232.6L679 227M686.4 221.6L695.6 216M703 210.5L712 205M718.6 200.4L727.6 194M734 189.6L743 183M748.5 178.78L749 178.4L761.2 169.55M767 164.3L774.7 158.24M780.3 153.66L780.5 153.5L788.2 147.32M793.5 142.83L794 142.4L800.5 136.88M802 135.6L809.8 128.5M815 123.5L822.2 117.2M827.5 112.76L829 111.5" fill="none" stroke="#0000ff" stroke-width="1.3" stroke-linejoin="round"/>
<path d="M149.5 585.7L267.3 480L315 436.4L335 418L355 400L375 382L395 365L415 348L435 331.6L455 315L467 305.6L481 295.3L501 281L521 265.8L526 261.8L531 258.2L536 255.3L541 252.8L561 242.4L575 234.4L585 230L597 223L609 217.6L621 212L633 205L647 197.4L667 185.8L687 173.2L707 160.2L727 146.2L739.4 137.5L751.8 128L764.2 118L776.6 107.6L789 96.5L801.4 85.4L813.8 73.8L825.8 63" fill="none" stroke="#ff00ff" stroke-width="1.3" stroke-linejoin="round"/>
</svg>
</body></html>
